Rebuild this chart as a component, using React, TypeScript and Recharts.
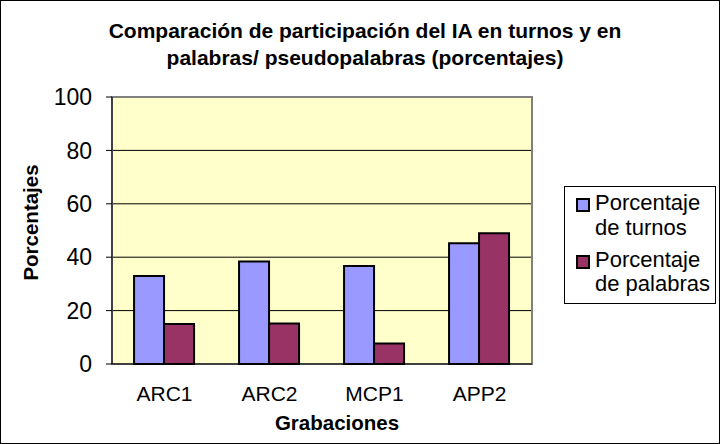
import React from 'react';
import { BarChart, Bar, XAxis, YAxis, CartesianGrid, Legend, ReferenceArea } from 'recharts';

const categories = ['ARC1', 'ARC2', 'MCP1', 'APP2'];
const turnos = [33, 38.4, 36.7, 45.2];
const palabras = [15, 15.2, 7.7, 49];
const yTicks = [0, 20, 40, 60, 80, 100];
const gridValues = [20, 40, 60, 80];
const boundaryTicks = [0, 1, 2, 3, 4];
const seriesNames = ['Porcentaje de turnos', 'Porcentaje de palabras'];
const seriesColors = ['#9999FF', '#993366'];

const data = categories.map((c, i) => ({ name: c, turnos: turnos[i], palabras: palabras[i], idx: i + 0.5 }));

const FONT = '"Liberation Sans", Arial, sans-serif';

const LegendBox = () => (
  <div style={{ border: '1px solid #000', background: '#fff', boxSizing: 'border-box', width: 152, height: 118, padding: '4px 0 0 11px', fontFamily: FONT, fontSize: 22, color: '#000', whiteSpace: 'nowrap' }}>
    {seriesNames.map((n, i) => {
      const words = n.split(' ');
      return (
        <div key={n} style={{ display: 'flex', alignItems: 'flex-start', marginBottom: 7.5, lineHeight: '24.5px' }}>
          <div style={{ width: 10, height: 10, background: seriesColors[i], border: '2px solid #000', marginTop: 7, marginRight: 5, flexShrink: 0 }} />
          <div>
            <div>{words[0]}</div>
            <div>{words.slice(1).join(' ')}</div>
          </div>
        </div>
      );
    })}
  </div>
);

const YTitle = (props: any) => {
  const vb = props.viewBox || {};
  const x = vb.x + 30;
  const y = vb.y + vb.height / 2 - 8;
  return (
    <text x={x} y={y} transform={`rotate(-90, ${x}, ${y})`} textAnchor="middle" dominantBaseline="central" fill="#000" fontSize={20.5} fontWeight="bold" fontFamily={FONT}>
      Porcentajes
    </text>
  );
};

const XTitle = (props: any) => {
  const vb = props.viewBox || {};
  const x = vb.x + vb.width / 2 + 15;
  const y = vb.y + 66;
  return (
    <text x={x} y={y} textAnchor="middle" fill="#000" fontSize={20.5} fontWeight="bold" fontFamily={FONT}>
      Grabaciones
    </text>
  );
};

export default function App() {
  return (
    <div style={{ position: 'absolute', left: 0, top: 0, width: 720, height: 444, background: '#fff', fontFamily: FONT }}>
      <div style={{ position: 'absolute', left: 0, top: 0, width: 720, height: 444, border: '1px solid #000', boxSizing: 'border-box', pointerEvents: 'none', zIndex: 2 }} />
      <div style={{ position: 'absolute', left: 0, top: 17, width: 730, textAlign: 'center', fontWeight: 'bold', fontSize: 21, lineHeight: '27px', color: '#000' }}>
        <div>Comparación de participación del IA en turnos y en</div>
        <div>palabras/ pseudopalabras (porcentajes)</div>
      </div>
      <BarChart width={720} height={444} data={data} margin={{ top: 97, right: 188, bottom: 0, left: 0 }} barCategoryGap="21%" barGap={0}>
        <CartesianGrid horizontal={true} vertical={false} horizontalValues={gridValues} stroke="#000" strokeWidth={1} fill="#FFFFCC" />
        <XAxis xAxisId="b" type="number" dataKey="idx" domain={[0, 4]} ticks={boundaryTicks} height={0} tick={false} tickLine={{ stroke: '#000' }} tickSize={6} axisLine={false} allowDataOverflow />
        <XAxis xAxisId="c" dataKey="name" height={80} tickLine={false} axisLine={{ stroke: '#000', strokeWidth: 1 }} tick={{ fill: '#000', fontSize: 21, fontFamily: FONT }} tickMargin={16}
          label={<XTitle />} />
        <YAxis domain={[0, 100]} ticks={yTicks} width={112} interval={0} tickSize={6} tickLine={{ stroke: '#000' }} axisLine={{ stroke: '#000' }} tick={{ fill: '#000', fontSize: 23, fontFamily: FONT }} tickMargin={14}
          label={<YTitle />} />
        <ReferenceArea xAxisId="b" x1={0} x2={4} y1={0} y2={100} fill="none" stroke="#808080" strokeWidth={2} ifOverflow="visible" />
        <Legend layout="vertical" align="center" verticalAlign="middle" content={<LegendBox />} wrapperStyle={{ position: 'absolute', left: 564, top: 186, width: 152, height: 118 }} />
        <Bar xAxisId="c" dataKey="turnos" name={seriesNames[0]} fill={seriesColors[0]} stroke="#000" strokeWidth={2} isAnimationActive={false} />
        <Bar xAxisId="c" dataKey="palabras" name={seriesNames[1]} fill={seriesColors[1]} stroke="#000" strokeWidth={2} isAnimationActive={false} />
      </BarChart>
    </div>
  );
}
